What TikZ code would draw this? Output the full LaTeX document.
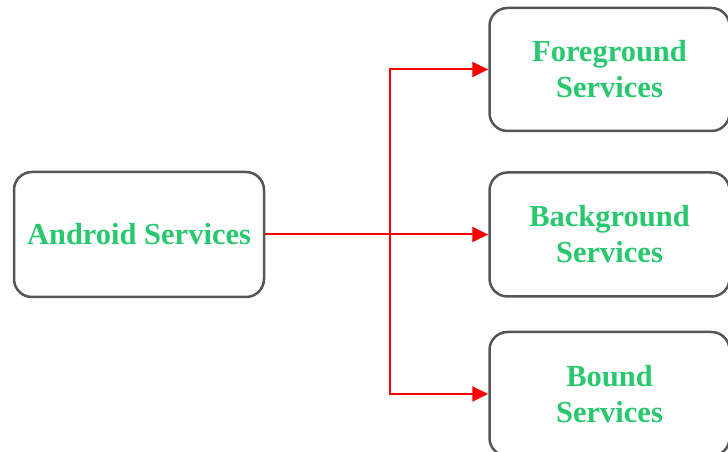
\documentclass[tikz,border=0pt]{standalone}
\usepackage{fontspec}
\setmainfont{Liberation Serif}
\usepackage{tikz}
\usetikzlibrary{positioning, arrows.meta}
\definecolor{srvgreen}{RGB}{40,200,110}
\definecolor{boxgray}{RGB}{85,85,85}
\tikzset{
x=1pt, y=1pt, % one unit is one pixel of the sketch
service/.style={draw=boxgray, line width=2.5pt, rounded corners=18pt, fill=white,
  text=srvgreen, font=\bfseries\fontsize{30.5}{36}\selectfont, align=center,
  inner sep=0pt}, % sets the properties for each service box
link/.style={draw=red, line width=2pt, -{Triangle[length=16pt,width=15pt]}}, % red arrows
}

\begin{document}
\begin{tikzpicture}
    \useasboundingbox (0,0) rectangle (728,452);
    % Service types
    \node[service, minimum width=250pt, minimum height=125pt] (android) at (139,217.5) {Android Services};
    \node[service, minimum width=240pt, minimum height=124pt, right=223pt of android] (background) {Background\\Services};
    \node[service, minimum width=240pt, minimum height=123pt, above=39pt of background] (foreground) {Foreground\\Services};
    \node[service, minimum width=240pt, minimum height=124pt, below=33pt of background] (bound) {Bound\\Services};
    \coordinate (split) at (390,217.5);
    \draw[link] (android.east) -- (background.west);
    \draw[link] (split) |- (foreground.west);
    \draw[link] (split) |- (bound.west);
\end{tikzpicture}
\end{document}
